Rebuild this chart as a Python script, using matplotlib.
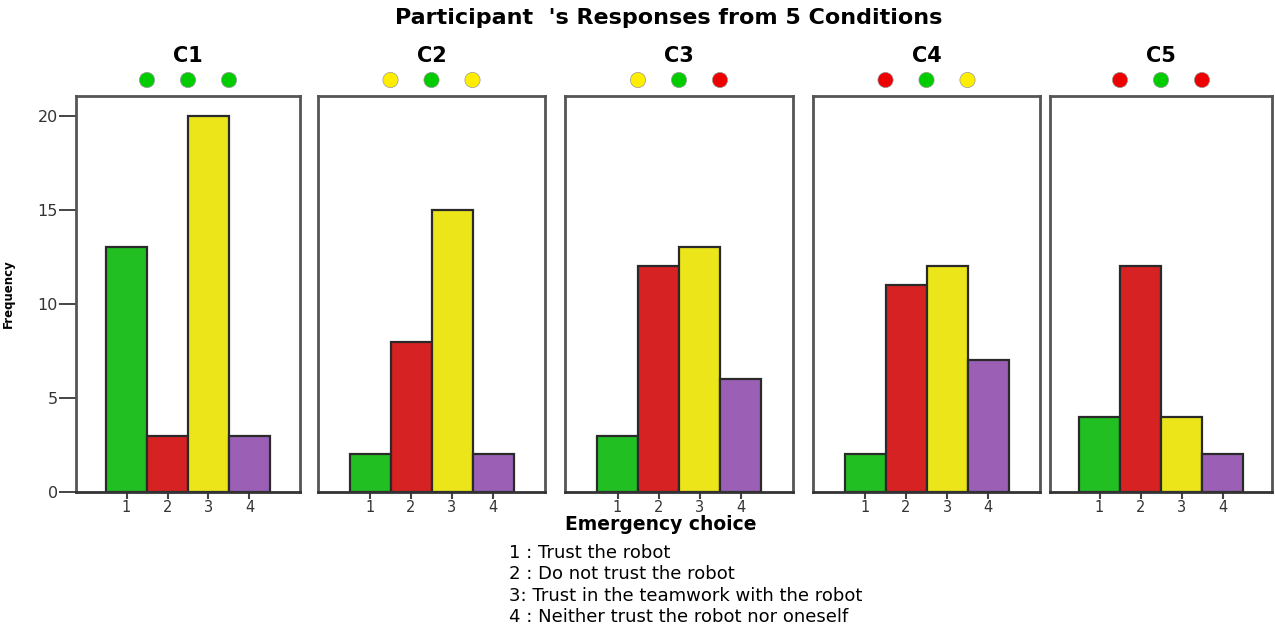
import matplotlib
matplotlib.use("Agg")
import matplotlib.pyplot as plt

conditions = ["C1", "C2", "C3", "C4", "C5"]
choices = [1, 2, 3, 4]
c1 = [13, 3, 20, 3]
c2 = [2, 8, 15, 2]
c3 = [3, 12, 13, 6]
c4 = [2, 11, 12, 7]
c5 = [4, 12, 4, 2]
values = [c1, c2, c3, c4, c5]
bar_colors = ["#22bf22", "#d62222", "#ebe51a", "#9b5fb5"]
dot_colors = [
    ["#00cc00", "#00cc00", "#00cc00"],
    ["#ffee00", "#00cc00", "#ffee00"],
    ["#ffee00", "#00cc00", "#ee0000"],
    ["#ee0000", "#00cc00", "#ffee00"],
    ["#ee0000", "#00cc00", "#ee0000"],
]
dot_x = [1.5, 2.5, 3.5]
yticks = [0, 5, 10, 15, 20]
legend_lines = [
    "1 : Trust the robot",
    "2 : Do not trust the robot",
    "3: Trust in the teamwork with the robot",
    "4 : Neither trust the robot nor oneself",
]

W, H = 1275, 629
fig = plt.figure(figsize=(W / 100, H / 100), dpi=100)

panel_px = [(76, 224), (318, 227), (565, 228), (813, 227), (1050, 222)]
top_px, bot_px = 96, 492

for i, (cond, vals) in enumerate(zip(conditions, values)):
    lx, wpx = panel_px[i]
    ax = fig.add_axes([lx / W, 1 - bot_px / H, wpx / W, (bot_px - top_px) / H])
    ax.bar(choices, vals, width=1.0, color=bar_colors, edgecolor="#2a2a2a", linewidth=1.6)
    half = wpx / 41 / 2
    ax.set_xlim(2.5 - half, 2.5 + half)
    ax.set_ylim(0, 21.05)
    for s in ax.spines.values():
        s.set_color("#555555")
        s.set_linewidth(2)
    ax.spines["bottom"].set_color("#333333")
    ax.set_xticks(choices)
    ax.set_xticklabels([str(c) for c in choices])
    ax.tick_params(axis="x", direction="out", length=5, width=1.5, color="#444444",
                   labelsize=10.5, labelcolor="#333333", pad=1)
    if i == 0:
        ax.set_yticks(yticks)
        ax.set_yticklabels([str(t) for t in yticks])
        ax.tick_params(axis="y", direction="out", length=12, width=1.4, color="#444444",
                       labelsize=11.5, labelcolor="#333333", pad=1)
        ax.set_ylabel("Frequency", fontsize=8.5, fontweight="bold")
        ax.yaxis.set_label_coords((15 - 76) / wpx, 0.5)
    else:
        ax.set_yticks([])
    ax.scatter(dot_x, [21.9] * 3, s=120, c=dot_colors[i], edgecolors="#999999",
               linewidths=0.5, clip_on=False, zorder=5)
    ax.text(2.5, 23.2, cond, ha="center", va="center", fontsize=15, fontweight="bold", clip_on=False)

fig.text(669 / W, 1 - 18 / H, "Participant  's Responses from 5 Conditions", ha="center", va="center",
         fontsize=16, fontweight="bold")
fig.text(661 / W, 1 - 525 / H, "Emergency choice", ha="center", va="center",
         fontsize=13.5, fontweight="bold")
for k, line in enumerate(legend_lines):
    fig.text(509 / W, 1 - (553 + 21.3 * k) / H, line, ha="left", va="center", fontsize=13)

fig.savefig("out.png", dpi=100)
